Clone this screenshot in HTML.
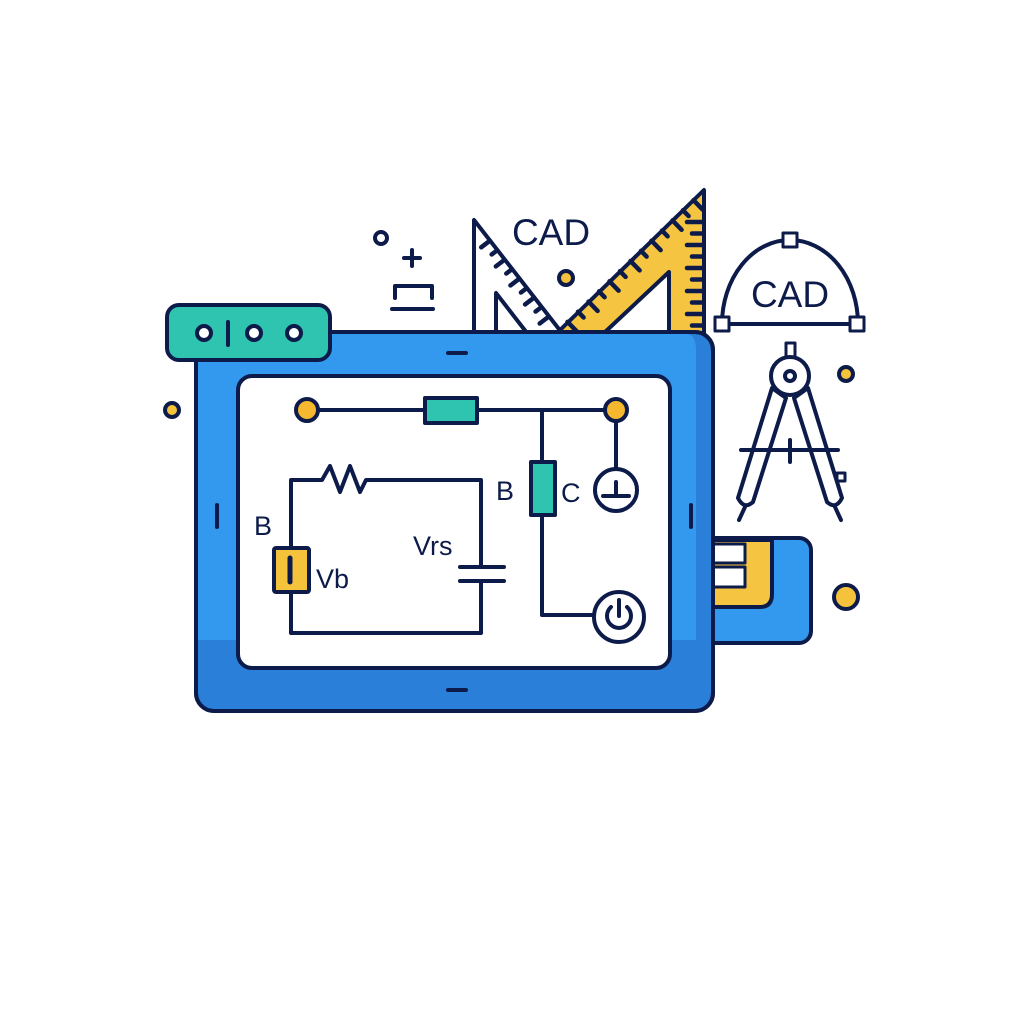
<!DOCTYPE html>
<html><head><meta charset="utf-8"><style>
html,body{margin:0;padding:0;background:#fff}
svg{display:block}
text{font-family:"Liberation Sans",sans-serif;fill:#0d1b4a}
</style></head><body>
<svg id="s" width="1024" height="1024" viewBox="0 0 1024 1024" xmlns="http://www.w3.org/2000/svg">
<g stroke="#0d1b4a" stroke-width="4" stroke-linecap="round" stroke-linejoin="round" fill="none">
<circle cx="381" cy="238" r="6"/>
<path d="M404 258h16M412 250v16"/>
<path d="M395 298v-12h37v12"/>
<path d="M392 309h41"/>
<circle cx="566" cy="278" r="7" fill="#f5c23c"/>
<circle cx="172" cy="410" r="7" fill="#f5c23c"/>
<circle cx="846" cy="374" r="7" fill="#f5c23c"/>
<circle cx="846" cy="597" r="12" fill="#f5c23c"/>
<path d="M474 220 L474 333 L562 333 Z" fill="#fff"/>
<path d="M496 293 L496 333 L527 333 Z" fill="#fff"/>
<g id="t1" stroke-width="4.5"></g>
<path d="M704 190 L704 333 L557 333 Z M669 272 L669 333 L604 333 Z" fill="#f5c542" fill-rule="evenodd"/>
<g id="t2" stroke-width="4.5"></g>
<path d="M722 324 A68 84 0 0 1 858 324 Z" fill="#fff"/>
<rect x="715" y="317" width="14" height="14" fill="#fff" stroke-width="3"/>
<rect x="850" y="317" width="14" height="14" fill="#fff" stroke-width="3"/>
<rect x="783" y="233" width="14" height="14" fill="#fff" stroke-width="3"/>
<rect x="786" y="343" width="9" height="20" fill="#fff" stroke-width="3"/>
<path d="M772 388 L738 498 Q744 510 753 502 L786 398 Z" fill="#fff"/>
<path d="M808 388 L842 498 Q836 510 827 502 L794 398 Z" fill="#fff"/>
<path d="M745 507 L739 520 M835 507 L841 520"/>
<rect x="837" y="473" width="8" height="8" fill="#fff" stroke-width="3"/>
<circle cx="790" cy="376" r="19" fill="#fff"/>
<circle cx="790" cy="376" r="5"/>
<path d="M741 450h97M790 440v22"/>
<rect x="690" y="538" width="121" height="105" rx="12" fill="#3399ee"/>
<path d="M690 540 H772 V594 Q772 607 760 607 H690 Z" fill="#f5c542"/>
<path d="M713 544 H745 V563 H713 M713 567 H745 V587 H713" fill="#fff" stroke-width="3"/>
<rect x="196" y="332" width="517" height="379" rx="18" fill="#2a7fd8"/>
<path d="M198 350 Q198 334 214 334 H686 Q696 334 696 350 V640 H198 Z" fill="#3399ee" stroke="none"/>
<rect x="196" y="332" width="517" height="379" rx="18"/>
<rect x="238" y="376" width="432" height="292" rx="14" fill="#fff"/>
<path d="M448 353h18M448 690h18M217 505v22M691 505v22"/>
<rect x="167" y="305" width="163" height="55" rx="12" fill="#2ec4b0"/>
<circle cx="204" cy="333" r="7" fill="#fff"/><circle cx="254" cy="333" r="7" fill="#fff"/><circle cx="294" cy="333" r="7" fill="#fff"/>
<path d="M228 322v23"/>
<path d="M307 410 H616 M542 410 V615 H596 M616 410 V470"/>
<rect x="425" y="398" width="52" height="25" fill="#2ec4b0"/>
<rect x="531" y="462" width="24" height="53" fill="#2ec4b0"/>
<circle cx="307" cy="410" r="11" fill="#f5b82e"/>
<circle cx="616" cy="410" r="11" fill="#f5b82e"/>
<circle cx="616" cy="490" r="21" fill="#fff"/>
<path d="M603 496h26M616 482v14"/>
<circle cx="619" cy="617" r="25" fill="#fff"/>
<path d="M619 600v16M611 607 A12 12 0 1 0 627 607"/>
<path d="M291 548 V480 H322 L330 466 L340 492 L350 466 L360 492 L366 480 H481 V567 M481 581 V633 H291 V592"/>
<path d="M460 567h44M460 581h44"/>
<rect x="274" y="548" width="35" height="44" rx="2" fill="#f5c23c"/>
<path d="M290 558v24" stroke-width="5"/>
</g>
<text x="551" y="245" font-size="37" text-anchor="middle">CAD</text>
<text x="790" y="307" font-size="37" text-anchor="middle">CAD</text>
<text x="254" y="535" font-size="27">B</text>
<text x="316" y="588" font-size="27">Vb</text>
<text x="413" y="555" font-size="27">Vrs</text>
<text x="496" y="500" font-size="27">B</text>
<text x="561" y="502" font-size="27">C</text>
</svg>
<script>
var ns="http://www.w3.org/2000/svg";
function tick(g,x1,y1,x2,y2){var l=document.createElementNS(ns,"line");l.setAttribute("x1",x1);l.setAttribute("y1",y1);l.setAttribute("x2",x2);l.setAttribute("y2",y2);document.getElementById(g).appendChild(l);}
for(var i=1;i<10;i++){var t=0.1+i*0.085;var x=474+86*t,y=220+112*t;var L=(i%2?11:7);tick("t1",x,y,x-L*0.79,y+L*0.6);}
for(var i=1;i<14;i++){var t=i/14;var x=557+147*t,y=332-142*t;var L=(i%2?13:8);tick("t2",x,y,x+L*0.7,y+L*0.72);}
for(var i=0;i<10;i++){var y=222+i*11.5;var L=(i%2?10:15);tick("t2",702,y,702-L,y);}
</script>
</body></html>
